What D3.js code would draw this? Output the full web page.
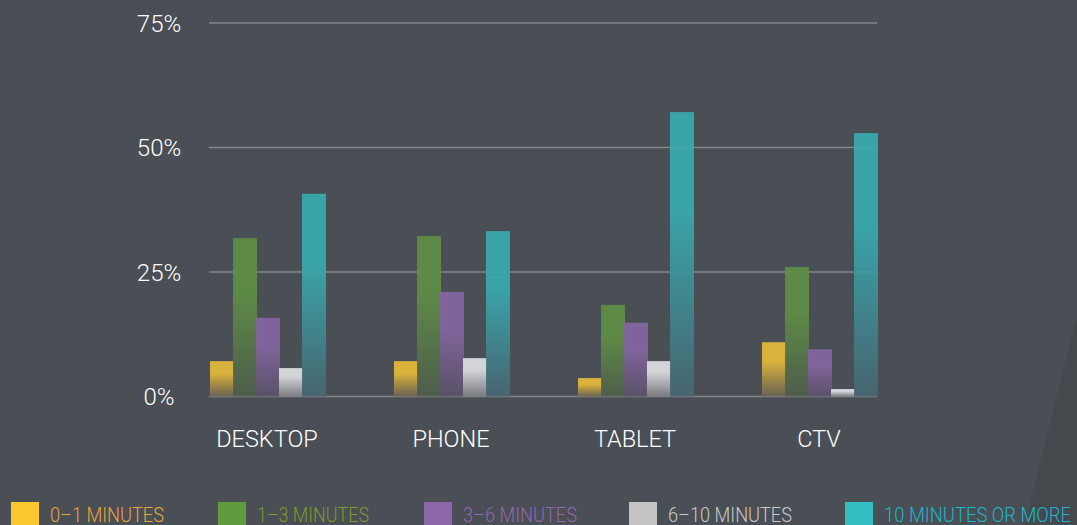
<!DOCTYPE html>
<html>
<head>
<meta charset="utf-8">
<script src="https://cdn.jsdelivr.net/npm/d3@7"></script>
<style>
  html, body { margin: 0; padding: 0; background: #4a4e55; overflow: hidden; }
  svg { display: block; font-family: Roboto, "Liberation Sans", sans-serif; }
</style>
</head>
<body>
<div id="chart"></div>
<script>
// Share of viewing sessions by length, per device
const devices = ['DESKTOP', 'PHONE', 'TABLET', 'CTV'];
const buckets = ['0–1 MINUTES', '1–3 MINUTES', '3–6 MINUTES', '6–10 MINUTES', '10 MINUTES OR MORE'];
const minutes0to1  = [7.1, 7.1, 3.7, 10.9];
const minutes1to3  = [31.8, 32.2, 18.4, 26.0];
const minutes3to6  = [15.8, 21.0, 14.8, 9.5];
const minutes6to10 = [5.7, 7.7, 7.1, 1.5];
const minutes10up  = [40.7, 33.2, 57.1, 52.9];
const yTicks = [0, 25, 50, 75];

const series = [minutes0to1, minutes1to3, minutes3to6, minutes6to10, minutes10up];

// bar gradient (top, bottom), legend swatch, legend text
const barTop    = ['#e4b93a', '#5f8e45', '#8465a1', '#dddee0', '#38aaaf'];
const barBottom = ['#6b6452', '#4f5e4c', '#5a5269', '#7d7f83', '#476670'];
const swatch    = ['#fdc82f', '#5f9a3e', '#8e67aa', '#c4c4c4', '#33bfc1'];
const labelCol  = ['#e9a53a', '#7d9a2c', '#9367b0', '#c9c9c9', '#1fb6cd'];

const width = 1077, height = 525;
const svg = d3.select('#chart').append('svg')
  .attr('width', width)
  .attr('height', height);

// background with the darker wedge at bottom right
svg.append('rect').attr('width', width).attr('height', height).attr('fill', '#4a4e55');
svg.append('path')
  .attr('d', 'M1077,317 L1077,525 L1025,525 Z')
  .attr('fill', '#45494e');

const y = d3.scaleLinear().domain([0, 75]).range([396.5, 23]);
const x0 = d3.scaleBand().domain(devices).range([176, 912])
  .paddingInner(68 / 184).paddingOuter(34 / 184);
const x1 = d3.scaleBand().domain(d3.range(buckets.length)).range([0, 115]);

const defs = svg.append('defs');
barTop.forEach((c, i) => {
  const g = defs.append('linearGradient')
    .attr('id', 'grad' + i)
    .attr('x1', 0).attr('y1', 0).attr('x2', 0).attr('y2', 1);
  g.append('stop').attr('offset', '0').attr('stop-color', c);
  g.append('stop').attr('offset', i === 3 ? '0.3' : '0.35').attr('stop-color', c);
  g.append('stop').attr('offset', '1').attr('stop-color', barBottom[i]);
});

// gridlines
svg.append('g')
  .selectAll('line')
  .data(yTicks)
  .join('line')
  .attr('x1', 209).attr('x2', 877)
  .attr('y1', d => y(d)).attr('y2', d => y(d))
  .attr('stroke', '#85878b')
  .attr('stroke-width', 1.5);

// y labels
svg.append('g')
  .selectAll('text')
  .data(yTicks)
  .join('text')
  .attr('x', 159)
  .attr('y', d => y(d))
  .attr('dy', '0.36em')
  .attr('text-anchor', 'middle')
  .attr('fill', '#ffffff')
  .attr('font-size', 24)
  .attr('font-weight', 300)
  .text(d => d + '%');

// bars
const groups = svg.append('g')
  .selectAll('g')
  .data(devices)
  .join('g')
  .attr('transform', d => `translate(${x0(d)},0)`);

groups.selectAll('rect')
  .data((d, di) => series.map((s, si) => ({ si, v: s[di] })))
  .join('rect')
  .attr('x', d => x1(d.si))
  .attr('y', d => y(d.v))
  .attr('width', x1.bandwidth() + 1)
  .attr('height', d => y(0) - y(d.v))
  .attr('fill', d => `url(#grad${d.si})`)
  .attr('fill-opacity', 0.93);

// category labels
svg.append('g')
  .selectAll('text')
  .data(devices)
  .join('text')
  .attr('x', d => x0(d) + x0.bandwidth() / 2 - 1)
  .attr('y', 447)
  .attr('text-anchor', 'middle')
  .attr('fill', '#ffffff')
  .attr('font-size', 23.5)
  .attr('font-weight', 300)
  .text(d => d);

// legend
const legendX = [11, 218, 424, 629, 845];
const legendTextW = [114, 112, 114, 124, 187];
const legend = svg.append('g')
  .selectAll('g')
  .data(buckets)
  .join('g')
  .attr('transform', (d, i) => `translate(${legendX[i]},502)`);

legend.append('rect')
  .attr('width', 28).attr('height', 28)
  .attr('fill', (d, i) => swatch[i]);

legend.append('text')
  .attr('x', 39)
  .attr('y', 20)
  .attr('fill', (d, i) => labelCol[i])
  .attr('font-size', 20)
  .attr('font-weight', 300)
  .attr('textLength', (d, i) => legendTextW[i])
  .attr('lengthAdjust', 'spacingAndGlyphs')
  .text(d => d);
</script>
</body>
</html>
